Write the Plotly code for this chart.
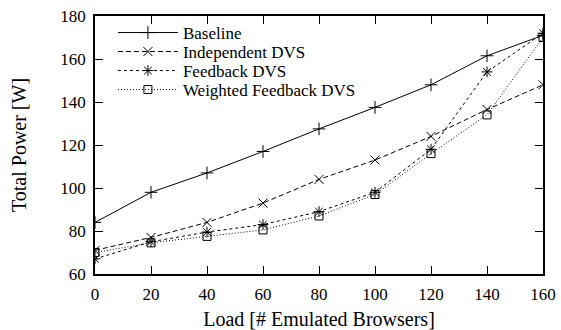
import plotly.graph_objects as go

loads = [0, 20, 40, 60, 80, 100, 120, 140, 160]
baseline = [84, 98, 107, 117, 127.5, 137.5, 148, 161.5, 171]
independent = [71, 77, 84, 93, 104, 113, 124, 136.5, 148]
feedback = [67, 75, 79.5, 83, 89, 98, 118, 154, 172]
weighted = [70, 74.5, 77.5, 80.5, 87, 97, 116, 134, 170]

series = [
    ("Baseline", baseline, "solid", "cross-thin", 9),
    ("Independent DVS", independent, "5px,3px", "x-thin", 9),
    ("Feedback DVS", feedback, "3px,3px", "asterisk", 9),
    ("Weighted Feedback DVS", weighted, "1px,2px", "square-open", 8),
]

FONT = "Liberation Serif"
legend_ids = ["legend", "legend2", "legend3", "legend4"]
legend_rows_px = [33, 52, 71, 90]   # row centers in px from top
plot_top, plot_bottom = 16, 274

fig = go.Figure()
for (name, vals, dash, sym, sz), lid in zip(series, legend_ids):
    fig.add_trace(go.Scatter(
        x=loads, y=vals, name=name, mode="lines+markers", legend=lid,
        line=dict(color="black", width=1, dash=dash),
        marker=dict(symbol=sym, size=sz, color="black",
                    line=dict(color="black", width=1)),
    ))

axis_common = dict(
    showgrid=False, zeroline=False, showline=True, linecolor="black",
    linewidth=1.5, mirror="ticks", ticks="inside", ticklen=8,
    tickcolor="black", tickwidth=1,
    tickfont=dict(family=FONT, size=17, color="black"),
)

layout_legends = {}
for lid, row in zip(legend_ids, legend_rows_px):
    layout_legends[lid] = dict(
        x=0.04, y=(plot_bottom - row) / (plot_bottom - plot_top),
        xanchor="left", yanchor="middle",
        bgcolor="rgba(0,0,0,0)", itemwidth=60,
        font=dict(family=FONT, size=17, color="black"),
    )

fig.update_layout(
    width=561, height=330,
    margin=dict(l=95, r=18, t=16, b=56, autoexpand=False),
    paper_bgcolor="white", plot_bgcolor="white",
    font=dict(family=FONT, size=17, color="black"),
    xaxis=dict(range=[0, 160], dtick=20, ticklabelstandoff=4,
               automargin=False,
               title=dict(text="Load [# Emulated Browsers]"),
               **axis_common),
    yaxis=dict(range=[60, 180], dtick=20, ticklabelstandoff=4,
               automargin=True,
               title=dict(text="Total Power [W]", standoff=28),
               **axis_common),
    showlegend=True,
    **layout_legends,
)

fig.write_html("out.html")
